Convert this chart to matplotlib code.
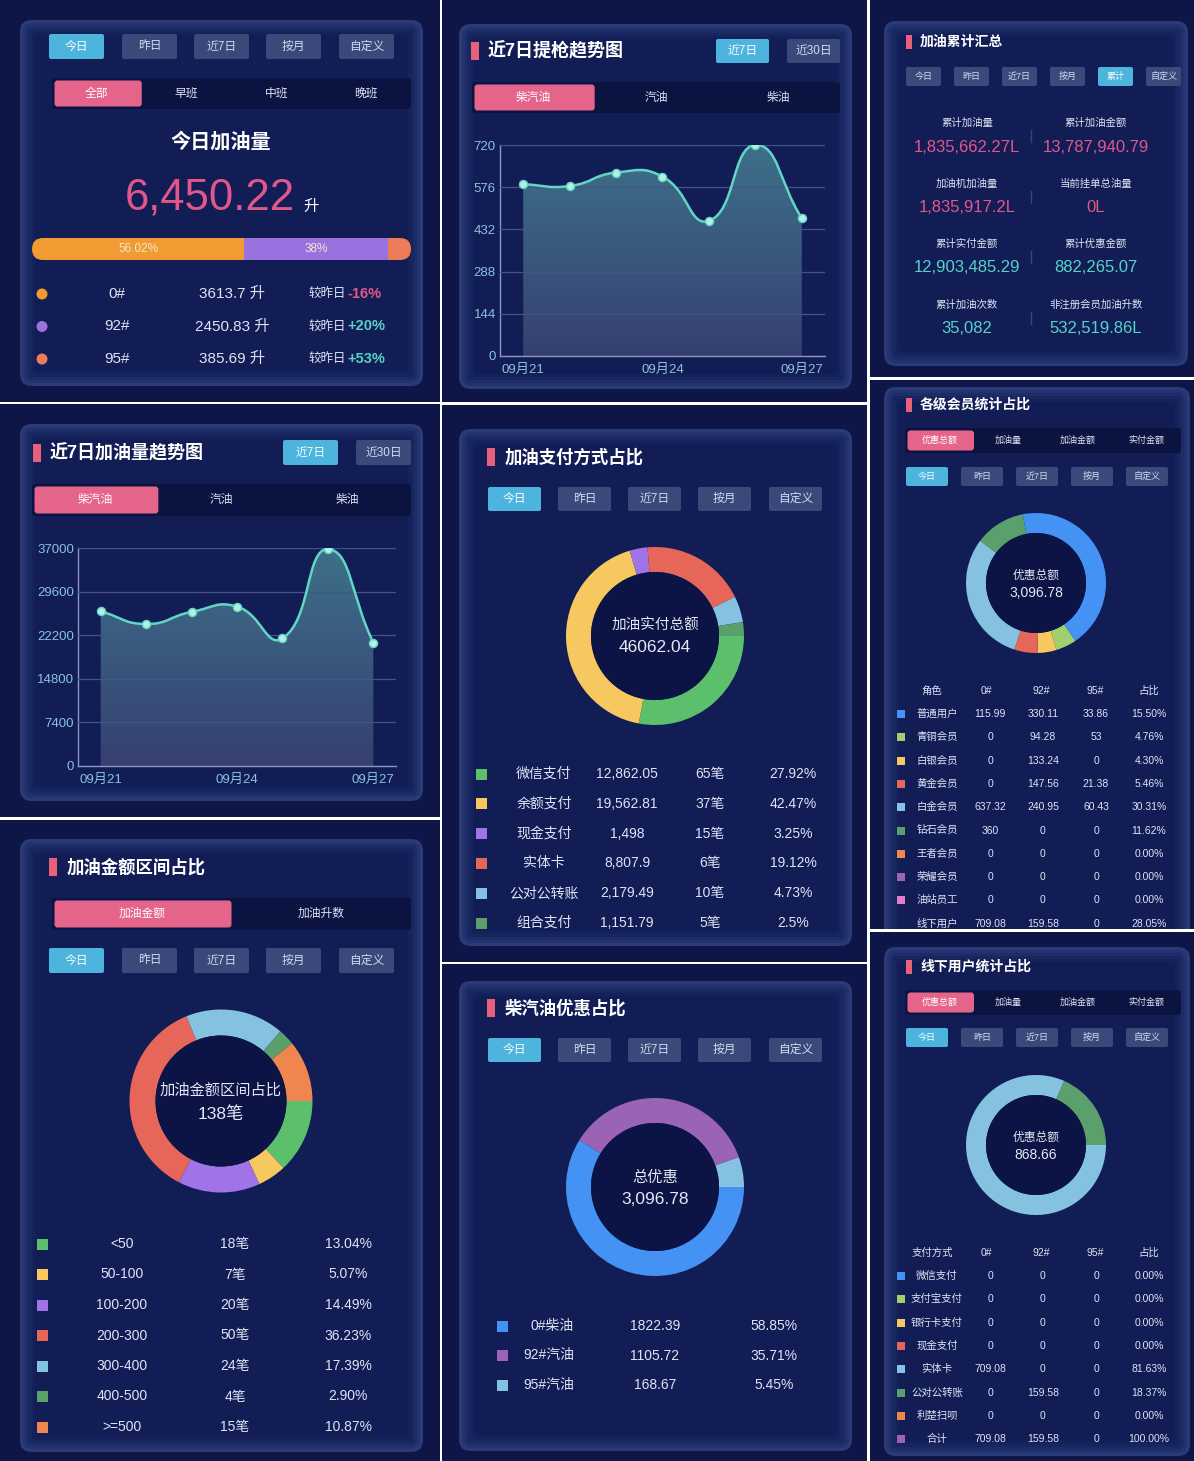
import matplotlib
matplotlib.use('Agg')
import matplotlib.pyplot as plt
import numpy as np
from matplotlib.patches import FancyBboxPatch, Rectangle, Circle, PathPatch
from matplotlib.path import Path

plt.rcParams['font.family'] = ['Liberation Sans', 'Noto Sans CJK SC', 'DejaVu Sans']
plt.rcParams['axes.unicode_minus'] = False

# ---------------- data ----------------
periods5 = ['今日', '昨日', '近7日', '按月', '自定义']
periods6 = ['今日', '昨日', '近7日', '按月', '累计', '自定义']
shifts = ['全部', '早班', '中班', '晚班']
fuel_tabs = ['柴汽油', '汽油', '柴油']
trend_btns = ['近7日', '近30日']
amount_tabs = ['加油金额', '加油升数']
member_tabs = ['优惠总额', '加油量', '加油金额', '实付金额']

today_total = 6450.22
today_grades = ['0#', '92#', '95#']
today_litres = [3613.7, 2450.83, 385.69]
today_change = ['-16%', '+20%', '+53%']
today_bar_labels = ['56.02%', '38%', '']

days = ['09月21', '09月22', '09月23', '09月24', '09月25', '09月26', '09月27']
nozzle_counts = [586, 580, 626, 612, 461, 720, 470]
nozzle_ticks = [0, 144, 288, 432, 576, 720]
volume_7d = [26250, 24100, 26150, 27050, 21650, 36800, 20950]
volume_ticks = [0, 7400, 14800, 22200, 29600, 37000]

summary_labels = ['累计加油量', '累计加油金额', '加油机加油量', '当前挂单总油量',
                  '累计实付金额', '累计优惠金额', '累计加油次数', '非注册会员加油升数']
summary_values = ['1,835,662.27L', '13,787,940.79', '1,835,917.2L', '0L',
                  '12,903,485.29', '882,265.07', '35,082', '532,519.86L']

pay_names = ['微信支付', '余额支付', '现金支付', '实体卡', '公对公转账', '组合支付']
pay_amounts = [12862.05, 19562.81, 1498, 8807.9, 2179.49, 1151.79]
pay_counts = [65, 37, 15, 6, 10, 5]
pay_pct = ['27.92%', '42.47%', '3.25%', '19.12%', '4.73%', '2.5%']
pay_total = 46062.04

range_names = ['<50', '50-100', '100-200', '200-300', '300-400', '400-500', '>=500']
range_counts = [18, 7, 20, 50, 24, 4, 15]

disc_names = ['0#柴油', '92#汽油', '95#汽油']
disc_values = [1822.39, 1105.72, 168.67]

member_roles = ['普通用户', '青铜会员', '白银会员', '黄金会员', '白金会员',
                '钻石会员', '王者会员', '荣耀会员', '油站员工', '线下用户']
member_0 = [115.99, 0, 0, 0, 637.32, 360, 0, 0, 0, 709.08]
member_92 = [330.11, 94.28, 133.24, 147.56, 240.95, 0, 0, 0, 0, 159.58]
member_95 = [33.86, 53, 0, 21.38, 60.43, 0, 0, 0, 0, 0]

offline_pays = ['微信支付', '支付宝支付', '银行卡支付', '现金支付', '实体卡', '公对公转账', '利楚扫呗']
offline_0 = [0, 0, 0, 0, 709.08, 0, 0]
offline_92 = [0, 0, 0, 0, 0, 159.58, 0]
offline_95 = [0, 0, 0, 0, 0, 0, 0]

# ---------------- style ----------------
BG = '#0d1646'
HOLE = '#0b1444'
TAB_BG = '#0b1341'
BTN = '#3a4979'
BTN_ON = '#4db4de'
PINK = '#e5648a'
BAR_PINK = '#e9607c'
TXT = '#e4e8f5'
CELL = '#dfe4f3'
NUM_PINK = '#e0588a'
TEAL = '#58d2c6'
TICK = '#8cc2dc'

BLUE = '#4592f5'
LGREEN = '#9fcf6e'
YELLOW = '#f6c85f'
RED = '#e6665a'
LBLUE = '#84c2e0'
GREEN = '#5b9f6c'
ORANGE = '#f0864f'
PURPLE = '#9b63b5'
MAGENTA = '#e27ccf'
GREEN2 = '#5cbf6b'
PURPLE2 = '#a073e6'

member_colors = [BLUE, LGREEN, YELLOW, RED, LBLUE, GREEN, ORANGE, PURPLE, MAGENTA, BLUE]
offline_colors = [BLUE, LGREEN, YELLOW, RED, LBLUE, GREEN, ORANGE, PURPLE]
pay_colors = [GREEN2, YELLOW, PURPLE2, RED, LBLUE, GREEN]
range_colors = [GREEN2, YELLOW, PURPLE2, RED, LBLUE, GREEN, ORANGE]
disc_colors = [BLUE, PURPLE, LBLUE]
bar_colors = ['#f19b32', '#9a72e0', '#ee7c58']

W, H = 1194, 1461
fig = plt.figure(figsize=(W / 100, H / 100), dpi=100, facecolor='white')
bg = fig.add_axes([0, 0, 1, 1])
bg.set_xlim(0, W)
bg.set_ylim(H, 0)
bg.axis('off')


def px_axes(x0, y0, x1, y1):
    return fig.add_axes([x0 / W, 1 - y1 / H, (x1 - x0) / W, (y1 - y0) / H])


def box(x0, y0, x1, y1, fc, r=0, z=2, clip=None):
    style = f'round,pad=0,rounding_size={r}' if r > 0 else 'square,pad=0'
    p = FancyBboxPatch((x0, y0), x1 - x0, y1 - y0, boxstyle=style,
                       fc=fc, ec='none', lw=0, zorder=z)
    bg.add_patch(p)
    if clip is not None:
        p.set_clip_path(clip)
    return p


def txt(x, y, s, size=9, color=TXT, ha='center', weight='normal', z=6, clip=None):
    t = bg.text(x, y, s, fontsize=size, color=color, ha=ha, va='center',
                fontweight=weight, zorder=z)
    if clip is not None:
        t.set_clip_path(clip)
    return t


def panel(x0, y0, x1, y1):
    r = Rectangle((x0, y0), x1 - x0, y1 - y0, fc=BG, ec='none', zorder=1)
    bg.add_patch(r)
    return r


def card(x0, y0, x1, y1, clip=None):
    layers = ['#2a3b78', '#22336f', '#1d2c67', '#182660', '#15215b', '#121d56']
    for i, c in enumerate(layers):
        d = i * 3
        box(x0 + d, y0 + d, x1 - d, y1 - d, c, r=max(12 - d, 3), z=2, clip=clip)


def title(x, y, s, size, bar=(17, 9, 9)):
    box(x - bar[0], y - bar[2], x - bar[1], y + bar[2], BAR_PINK, z=3)
    txt(x, y, s, size, 'white', ha='left', weight='bold')


def buttons(labels, xs, w, y0, h, active, size):
    for lab, x in zip(labels, xs):
        on = lab == active
        box(x, y0, x + w, y0 + h, BTN_ON if on else BTN, r=2, z=3)
        txt(x + w / 2, y0 + h / 2, lab, size, 'white' if on else '#d2daf0')


def tabs(labels, x0, x1, y0, y1, size, pad=2.5):
    box(x0, y0, x1, y1, TAB_BG, r=3, z=3)
    seg = (x1 - x0) / len(labels)
    box(x0 + pad, y0 + pad, x0 + seg, y1 - pad, PINK, r=3, z=4)
    for i, lab in enumerate(labels):
        txt(x0 + seg * (i + 0.5), (y0 + y1) / 2, lab, size,
            'white' if i == 0 else CELL)


def smooth_path(xs, ys, sx, sy, k=0.5):
    # bezier control points (echarts-like smoothing), computed in pixel space
    px = [x * sx for x in xs]
    py = [y * sy for y in ys]
    n = len(xs)
    cps = []
    for i in range(n):
        a, b = max(i - 1, 0), min(i + 1, n - 1)
        vx, vy = px[b] - px[a], py[b] - py[a]
        d0 = np.hypot(px[i] - px[a], py[i] - py[a])
        d1 = np.hypot(px[b] - px[i], py[b] - py[i])
        s = d0 + d1
        if s:
            d0, d1 = d0 / s, d1 / s
        cps.append(((px[i] - vx * k * d0, py[i] - vy * k * d0),
                    (px[i] + vx * k * d1, py[i] + vy * k * d1)))
    verts = [(xs[0], ys[0])]
    codes = [Path.MOVETO]
    for i in range(n - 1):
        c1 = cps[i][1]
        c2 = cps[i + 1][0]
        verts += [(c1[0] / sx, c1[1] / sy), (c2[0] / sx, c2[1] / sy), (xs[i + 1], ys[i + 1])]
        codes += [Path.CURVE4] * 3
    return verts, codes


def trend(x0, y0, x1, y1, vals, ticks):
    ax = px_axes(x0, y0, x1, y1)
    ax.set_facecolor('none')
    n = len(vals)
    xs = list(range(n))
    ymax = ticks[-1]
    ax.set_xlim(-0.5, n - 0.5)
    ax.set_ylim(0, ymax)
    sx = (x1 - x0) / n
    sy = (y1 - y0) / ymax
    verts, codes = smooth_path(xs, vals, sx, sy)
    area = PathPatch(Path(verts + [(xs[-1], 0), (xs[0], 0), (xs[0], vals[0])],
                          codes + [Path.LINETO, Path.LINETO, Path.CLOSEPOLY]),
                     fc='none', ec='none')
    ax.add_patch(area)
    top = np.array([0.24, 0.44, 0.54])
    bot = np.array([0.21, 0.25, 0.44])
    t = np.linspace(0, 1, 256)[:, None]
    grad = (bot * (1 - t) + top * t)[:, None, :]
    im = ax.imshow(grad, extent=(-0.5, n - 0.5, 0, ymax), origin='lower',
                   aspect='auto', zorder=1)
    im.set_clip_path(area)
    ax.add_patch(PathPatch(Path(verts, codes), fc='none', ec='#62d6c6', lw=1.8, zorder=4))
    ax.scatter(xs, vals, s=34, c='#b4efe4', edgecolors='#62d6c6', linewidths=1, zorder=5)
    ax.set_yticks(ticks)
    ax.set_yticklabels([str(v) for v in ticks])
    ax.set_xticks([0, 3, 6])
    ax.set_xticklabels([days[0], days[3], days[6]])
    ax.yaxis.grid(True, color='#44538a', lw=0.9)
    ax.set_axisbelow(False)
    ax.tick_params(axis='y', length=0, colors=TICK, labelsize=9.5, pad=3)
    ax.tick_params(axis='x', length=0, colors=TICK, labelsize=9.5, pad=6)
    for sp in ['top', 'right']:
        ax.spines[sp].set_visible(False)
    for sp in ['left', 'bottom']:
        ax.spines[sp].set_color('#8d97bd')
        ax.spines[sp].set_linewidth(1)
    return ax


def donut(cx, cy, r, ri, vals, colors, lines):
    ax = px_axes(cx - r, cy - r, cx + r, cy + r)
    ax.pie(vals, colors=colors, startangle=0, counterclock=False, radius=1,
           wedgeprops=dict(width=1 - ri / r, linewidth=0))
    ax.add_patch(Circle((0, 0), ri / r, fc=HOLE, ec='none', zorder=3))
    for dy, s, size in lines:
        ax.text(0, -dy / r, s, fontsize=size, color=TXT, ha='center', va='center', zorder=4)
    ax.set_xlim(-1, 1)
    ax.set_ylim(-1, 1)
    ax.axis('off')
    return ax


def fmt(v):
    return f'{v:g}'


# ---------------- panel A: today volume ----------------
panel(0, 0, 440, 402)
card(20, 20, 423, 386)
buttons(periods5, [49, 122, 194, 266, 339], 55, 34, 25, '今日', 8.5)
tabs(shifts, 52, 411, 78, 109, 8.5)
txt(221, 142, '今日加油量', 14.5, 'white', weight='bold')
txt(210, 198, f'{today_total:,.2f}', 31.5, NUM_PINK)
txt(311, 207, '升', 11, 'white')
bx0, bx1, by0, by1 = 32, 411, 238, 260
bar_shape = box(bx0, by0, bx1, by1, 'none', r=11, z=2)
x = bx0
for i, v in enumerate(today_litres):
    w = (bx1 - bx0) * v / sum(today_litres)
    box(x, by0, x + w, by1, bar_colors[i], z=3, clip=bar_shape)
    if today_bar_labels[i]:
        txt(x + w / 2, (by0 + by1) / 2, today_bar_labels[i], 8.5, '#f3e6d2')
    x += w
for i, (g, v, c) in enumerate(zip(today_grades, today_litres, today_change)):
    y = 294 + i * 32.5
    bg.add_patch(Circle((42, y), 5.5, fc=bar_colors[i], zorder=4))
    txt(117, y, g, 11, CELL)
    txt(232, y, f'{v} 升', 11, CELL)
    txt(346, y, '较昨日', 9, CELL, ha='right')
    txt(347, y, c, 10.5, NUM_PINK if c.startswith('-') else TEAL, ha='left', weight='bold')

# ---------------- panel B: nozzle trend ----------------
panel(442, 0, 867, 402)
card(459, 24, 852, 389)
title(488, 51, '近7日提枪趋势图', 13)
buttons(trend_btns, [716, 787], 53, 39, 24, '近7日', 8.5)
tabs(fuel_tabs, 472, 840, 82, 113, 8.5)
trend(500, 145, 825, 356, nozzle_counts, nozzle_ticks)

# ---------------- panel C: cumulative summary ----------------
panel(870, 0, 1194, 377)
card(884, 21, 1188, 366)
title(920, 42, '加油累计汇总', 10, bar=(14, 8, 7))
buttons(periods6, [906, 954, 1002, 1050, 1098, 1146], 35, 67, 19, '累计', 6.5)
for i, (lab, val) in enumerate(zip(summary_labels, summary_values)):
    row, col = divmod(i, 2)
    xc = 967 if col == 0 else 1096
    y = 123 + row * 60.5
    txt(xc, y, lab, 7.5, CELL)
    txt(xc, y + 24, val, 12, NUM_PINK if row < 2 else TEAL)
    if col == 0:
        bg.plot([1031, 1031], [y + 7, y + 19], color='#34447c', lw=1, zorder=4)

# ---------------- panel D: volume trend ----------------
panel(0, 404, 440, 817)
card(20, 424, 423, 801)
title(50, 453, '近7日加油量趋势图', 13)
buttons(trend_btns, [283, 356], 55, 440, 25, '近7日', 8.5)
tabs(fuel_tabs, 32, 411, 484, 516, 8.5)
trend(78, 548, 396, 766, volume_7d, volume_ticks)

# ---------------- panel E: payment methods ----------------
panel(442, 405, 867, 962)
card(459, 429, 852, 946)
title(505, 457, '加油支付方式占比', 12.5, bar=(18, 10, 9))
buttons(periods5, [488, 558, 628, 698, 769], 53, 487, 24, '今日', 8.5)
donut(655, 636, 89, 64, pay_amounts, pay_colors,
      [(-10, '加油实付总额', 10.5), (12, f'{pay_total}', 12.5)])
for i in range(len(pay_names)):
    y = 774 + i * 29.8
    box(476, y - 5.5, 487, y + 5.5, pay_colors[i], z=4)
    txt(544, y, pay_names[i], 10, CELL)
    txt(627, y, f'{pay_amounts[i]:,}', 10, CELL)
    txt(710, y, f'{pay_counts[i]}笔', 10, CELL)
    txt(793, y, pay_pct[i], 10, CELL)

# ---------------- panel F: member levels ----------------
clipF = panel(870, 380, 1194, 929)
card(884, 387, 1190, 960, clip=clipF)
title(920, 405, '各级会员统计占比', 10, bar=(14, 8, 7))
tabs(member_tabs, 905, 1181, 428, 453, 6.5, pad=2.5)
buttons(periods5, [906, 961, 1016, 1071, 1126], 42, 467, 19, '今日', 6.5)
member_sum = [a + b + c for a, b, c in zip(member_0, member_92, member_95)]
member_total = sum(member_sum)
donut(1036, 583, 70, 50, member_sum, member_colors,
      [(-7, '优惠总额', 8.5), (10, f'{member_total:,.2f}', 10)])
for hx, h in zip([932, 986, 1041, 1095, 1149], ['角色', '0#', '92#', '95#', '占比']):
    txt(hx, 691, h, 7.5, CELL)
for i, role in enumerate(member_roles):
    y = 714 + i * 23.3
    if i < 9:
        box(897, y - 4, 905, y + 4, member_colors[i], z=4, clip=clipF)
    cells = [role, fmt(member_0[i]), fmt(member_92[i]), fmt(member_95[i]),
             f'{member_sum[i] / member_total * 100:.2f}%']
    for hx, s in zip([937, 990, 1043, 1096, 1149], cells):
        txt(hx, y, s, 7.5, CELL, clip=clipF)

# ---------------- panel G: amount ranges ----------------
panel(0, 820, 440, 1461)
card(20, 839, 423, 1452)
title(67, 867, '加油金额区间占比', 12.5, bar=(18, 10, 9))
tabs(amount_tabs, 52, 411, 898, 930, 8.5)
buttons(periods5, [49, 122, 194, 266, 339], 55, 948, 25, '今日', 8.5)
range_total = sum(range_counts)
donut(221, 1101, 91.5, 65.5, range_counts, range_colors,
      [(-10, '加油金额区间占比', 11), (13, f'{range_total}笔', 12.5)])
for i in range(len(range_names)):
    y = 1244 + i * 30.5
    box(37, y - 5.5, 48, y + 5.5, range_colors[i], z=4)
    txt(122, y, range_names[i], 10, CELL)
    txt(235, y, f'{range_counts[i]}笔', 10, CELL)
    txt(348, y, f'{range_counts[i] / range_total * 100:.2f}%', 10, CELL)

# ---------------- panel H: discount by fuel ----------------
panel(442, 964, 867, 1461)
card(459, 981, 852, 1451)
title(505, 1008, '柴汽油优惠占比', 12.5, bar=(18, 10, 9))
buttons(periods5, [488, 558, 628, 698, 769], 53, 1038, 24, '今日', 8.5)
disc_total = sum(disc_values)
donut(655, 1187, 89, 64, disc_values, disc_colors,
      [(-9, '总优惠', 11), (12, f'{disc_total:,.2f}', 12.5)])
for i in range(len(disc_names)):
    y = 1326 + i * 29.5
    box(497, y - 5.5, 508, y + 5.5, disc_colors[i], z=4)
    txt(574, y, disc_names[i], 10, CELL, ha='right')
    txt(655, y, fmt(disc_values[i]), 10, CELL)
    txt(774, y, f'{disc_values[i] / disc_total * 100:.2f}%', 10, CELL)

# ---------------- panel I: offline users ----------------
panel(870, 932, 1194, 1461)
card(884, 947, 1190, 1456)
title(920, 967, '线下用户统计占比', 10, bar=(14, 8, 7))
tabs(member_tabs, 905, 1181, 990, 1015, 6.5, pad=2.5)
buttons(periods5, [906, 961, 1016, 1071, 1126], 42, 1028, 19, '今日', 6.5)
off_sum = [a + b + c for a, b, c in zip(offline_0, offline_92, offline_95)]
off_total = sum(off_sum)
donut(1036, 1145, 70, 50, off_sum, offline_colors[:7],
      [(-7, '优惠总额', 8.5), (10, f'{off_total:,.2f}', 10)])
for hx, h in zip([932, 986, 1041, 1095, 1149], ['支付方式', '0#', '92#', '95#', '占比']):
    txt(hx, 1253, h, 7.5, CELL)
rows = list(zip(offline_pays, offline_0, offline_92, offline_95, off_sum))
rows.append(('合计', sum(offline_0), sum(offline_92), sum(offline_95), off_total))
for i, (name, a, b, c, s) in enumerate(rows):
    y = 1276 + i * 23.3
    box(897, y - 4, 905, y + 4, offline_colors[i], z=4)
    cells = [name, fmt(round(a, 2)), fmt(round(b, 2)), fmt(round(c, 2)), f'{s / off_total * 100:.2f}%']
    for hx, t in zip([937, 990, 1043, 1096, 1149], cells):
        txt(hx, y, t, 7.5, CELL)

fig.savefig('out.png', dpi=100, facecolor='white')
